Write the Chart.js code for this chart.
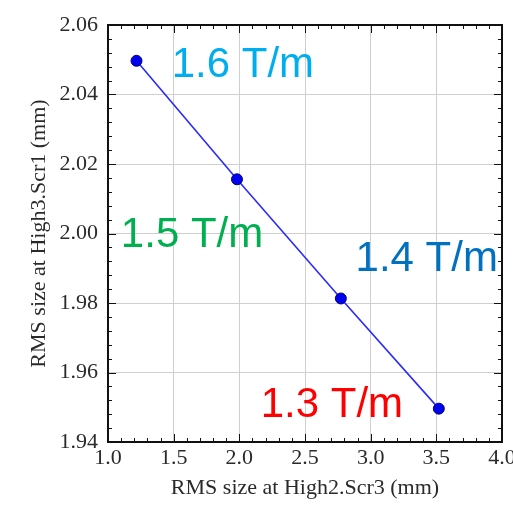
<!DOCTYPE html>
<html>
<head>
<meta charset="utf-8">
<script src="https://cdn.jsdelivr.net/npm/chart.js@4/dist/chart.umd.min.js"></script>
<style>
  html, body { margin: 0; padding: 0; background: #fff; }
  #wrap { width: 513px; height: 505px; }
</style>
</head>
<body>
<div id="wrap"><canvas id="c" width="513" height="505"></canvas></div>
<script>
// RMS beam size at High2.Scr3 vs High3.Scr1 for four quadrupole gradients
const gradients = ['1.3 T/m', '1.4 T/m', '1.5 T/m', '1.6 T/m'];
const rmsScr3 = [3.519, 2.773, 1.982, 1.217];
const rmsScr1 = [1.9496, 1.9813, 2.0156, 2.0497];

const xTicks = [1.0, 1.5, 2.0, 2.5, 3.0, 3.5, 4.0];
const yTicks = [1.94, 1.96, 1.98, 2.00, 2.02, 2.04, 2.06];

// gradient labels: text, colour, anchor in data units (left, baseline)
const labelText = ['1.6 T/m', '1.5 T/m', '1.4 T/m', '1.3 T/m'];
const labelColor = ['#00aeef', '#00b050', '#0070c0', '#ff0000'];
const labelX = [1.485, 1.098, 2.885, 2.163];
const labelY = [2.045, 1.9961, 1.9892, 1.9471];

const points = rmsScr3.map((x, i) => ({ x, y: rmsScr1[i] }));

const frame = {
  id: 'frame',
  afterDatasetsDraw(chart) {
    const { ctx, chartArea: a, scales: { x, y } } = chart;
    ctx.save();
    // gradient labels
    ctx.font = '42px "Liberation Sans", Arial, sans-serif';
    ctx.textBaseline = 'alphabetic';
    ctx.textAlign = 'left';
    labelText.forEach((t, i) => {
      ctx.fillStyle = labelColor[i];
      ctx.fillText(t, x.getPixelForValue(labelX[i]), y.getPixelForValue(labelY[i]));
    });
    // inward ticks on all four sides
    ctx.strokeStyle = '#111';
    ctx.lineWidth = 1;
    ctx.beginPath();
    for (let k = 0; k <= 30; k++) {
      const v = 1 + k * 0.1;
      const px = Math.round(x.getPixelForValue(v)) + 0.5;
      const len = k % 5 === 0 ? 8 : 4;
      ctx.moveTo(px, a.bottom); ctx.lineTo(px, a.bottom - len);
      ctx.moveTo(px, a.top); ctx.lineTo(px, a.top + len);
    }
    for (let k = 0; k <= 30; k++) {
      const v = 1.94 + k * 0.004;
      const py = Math.round(y.getPixelForValue(v)) + 0.5;
      const len = k % 5 === 0 ? 8 : 4;
      ctx.moveTo(a.left, py); ctx.lineTo(a.left + len, py);
      ctx.moveTo(a.right, py); ctx.lineTo(a.right - len, py);
    }
    ctx.stroke();
    // plot box
    ctx.strokeStyle = '#111';
    ctx.lineWidth = 2;
    ctx.strokeRect(a.left, a.top, a.right - a.left, a.bottom - a.top);
    ctx.restore();
  }
};

const tickFont = { family: '"Liberation Serif", "Times New Roman", serif', size: 22 };
const titleFont = { family: '"Liberation Serif", "Times New Roman", serif', size: 22 };

new Chart(document.getElementById('c'), {
  type: 'scatter',
  data: {
    datasets: [{
      label: 'RMS size',
      data: points,
      showLine: true,
      borderColor: '#2a2aff',
      borderWidth: 1.6,
      pointRadius: 5.5,
      pointBackgroundColor: '#0000f0',
      pointBorderColor: '#000070',
      pointBorderWidth: 1
    }]
  },
  options: {
    responsive: false,
    animation: false,
    devicePixelRatio: 1,
    layout: { padding: { top: 25, right: 11, left: 0, bottom: 0 } },
    plugins: { legend: { display: false }, tooltip: { enabled: false } },
    scales: {
      x: {
        type: 'linear',
        min: 1, max: 4,
        afterBuildTicks: s => { s.ticks = xTicks.map(v => ({ value: v })); },
        afterFit: s => { s.height = 63; s.paddingRight = 0; s.paddingLeft = 0; },
        ticks: {
          font: tickFont, color: '#2a2a2a', padding: 3,
          callback: v => v.toFixed(1)
        },
        grid: { color: '#cfcfcf', lineWidth: 1, drawTicks: false },
        border: { display: false },
        title: {
          display: true, text: 'RMS size at High2.Scr3 (mm)',
          font: titleFont, color: '#2a2a2a', padding: { top: 0, bottom: 4 }
        }
      },
      y: {
        type: 'linear',
        min: 1.94, max: 2.06,
        afterBuildTicks: s => { s.ticks = yTicks.map(v => ({ value: v })); },
        afterFit: s => { s.width = 108; s.paddingTop = 0; s.paddingBottom = 0; },
        ticks: {
          font: tickFont, color: '#2a2a2a', padding: 10,
          callback: v => v.toFixed(2)
        },
        grid: { color: '#cfcfcf', lineWidth: 1, drawTicks: false },
        border: { display: false },
        title: {
          display: true, text: 'RMS size at High3.Scr1 (mm)',
          font: titleFont, color: '#2a2a2a', padding: { top: 26, bottom: 0 }
        }
      }
    }
  },
  plugins: [frame]
});
</script>
</body>
</html>
